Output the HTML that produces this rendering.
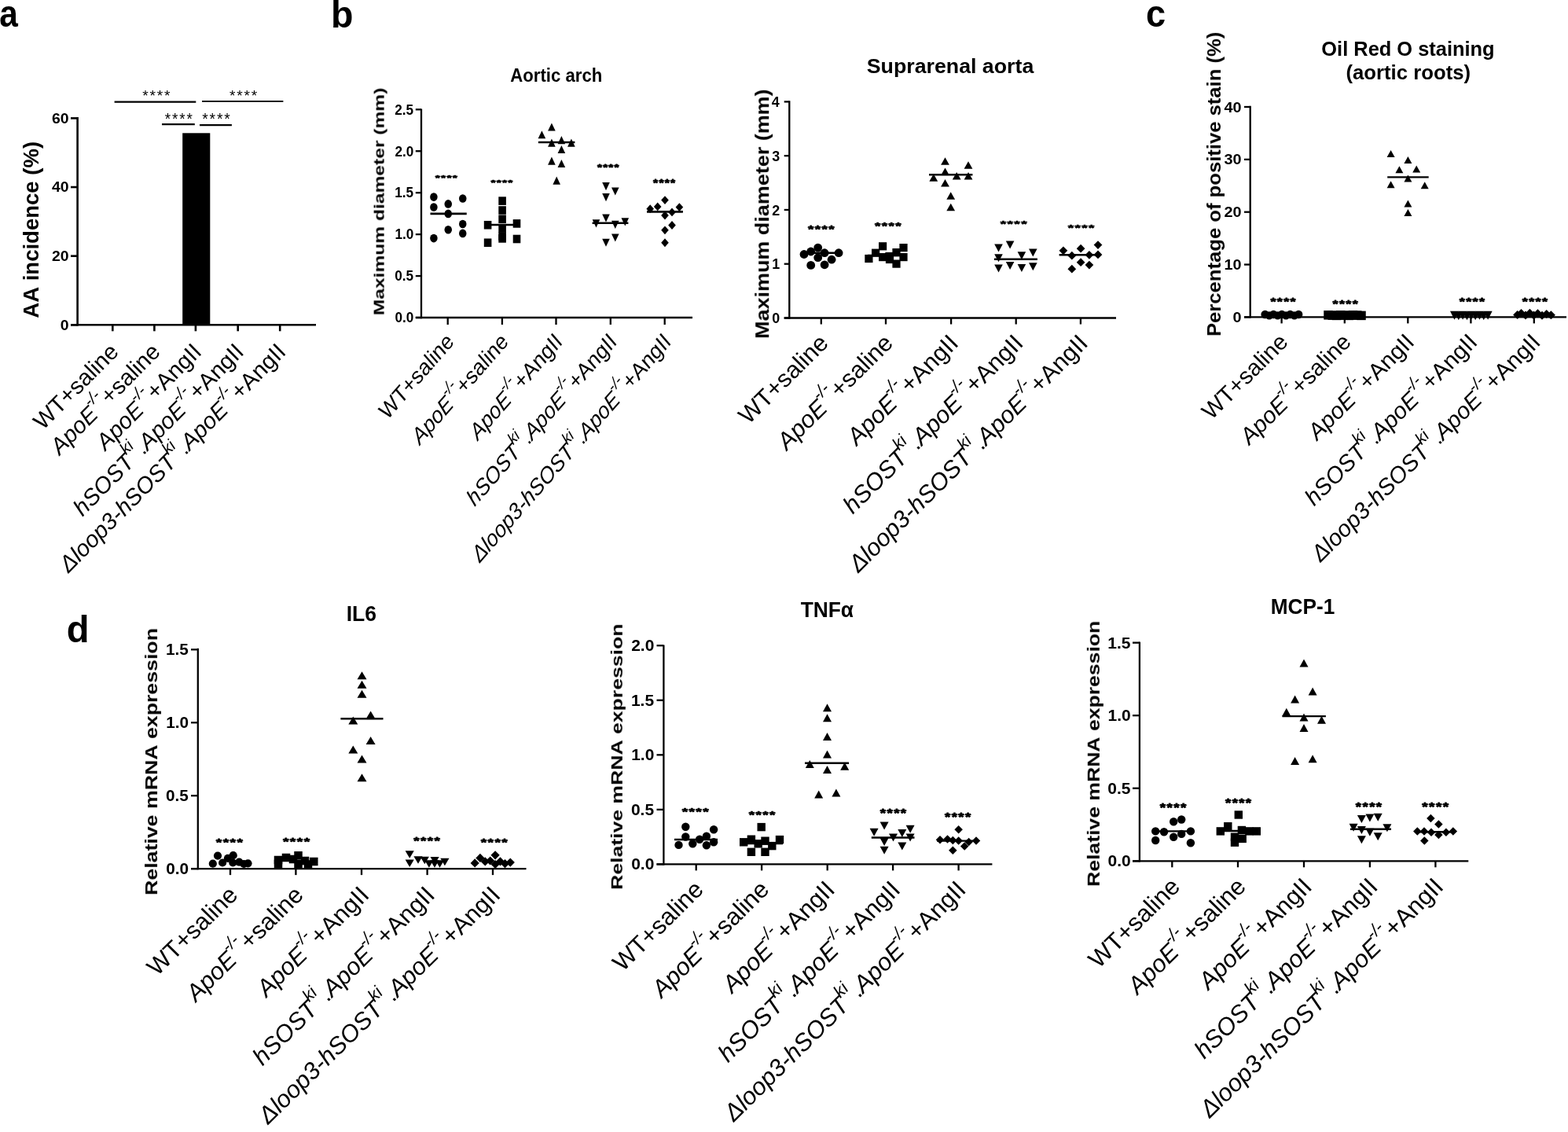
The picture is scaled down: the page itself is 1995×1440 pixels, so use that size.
<!DOCTYPE html>
<html><head><meta charset="utf-8"><title>Figure</title><style>html,body{margin:0;padding:0;background:#fff;}svg{display:block;}</style></head><body>
<svg width="1995" height="1440" viewBox="0 0 1995 1440">
<defs><filter id="soft" x="0" y="0" width="1" height="1" color-interpolation-filters="sRGB"><feGaussianBlur stdDeviation="0.45"/></filter></defs>
<rect width="1995" height="1440" fill="#fff"/>
<g fill="#000" stroke="none" font-family="'Liberation Sans', Arial, sans-serif" style="font-kerning:none" filter="url(#soft)">
<text transform="translate(-0.84,34.33) scale(0.8830,1)" font-size="48"><tspan font-weight="bold">a</tspan></text>
<text transform="translate(421.08,34.78) scale(0.9695,1)" font-size="48"><tspan font-weight="bold">b</tspan></text>
<text transform="translate(1458.04,34.33) scale(0.9396,1)" font-size="48"><tspan font-weight="bold">c</tspan></text>
<text transform="translate(84.72,816.78) scale(0.9819,1)" font-size="48"><tspan font-weight="bold">d</tspan></text>
<rect x="232.2" y="169.3" width="35.1" height="244"/>
<line x1="98.6" y1="149" x2="98.6" y2="414.6" stroke="#000" stroke-width="2.6"/>
<line x1="90" y1="413.3" x2="402" y2="413.3" stroke="#000" stroke-width="2.6"/>
<line x1="90" y1="413.3" x2="98.6" y2="413.3" stroke="#000" stroke-width="2.6"/>
<line x1="90" y1="325.67" x2="98.6" y2="325.67" stroke="#000" stroke-width="2.6"/>
<line x1="90" y1="238.03" x2="98.6" y2="238.03" stroke="#000" stroke-width="2.6"/>
<line x1="90" y1="150.4" x2="98.6" y2="150.4" stroke="#000" stroke-width="2.6"/>
<line x1="143.3" y1="413.3" x2="143.3" y2="421.3" stroke="#000" stroke-width="2.6"/>
<line x1="196.4" y1="413.3" x2="196.4" y2="421.3" stroke="#000" stroke-width="2.6"/>
<line x1="248.9" y1="413.3" x2="248.9" y2="421.3" stroke="#000" stroke-width="2.6"/>
<line x1="302.7" y1="413.3" x2="302.7" y2="421.3" stroke="#000" stroke-width="2.6"/>
<line x1="356.2" y1="413.3" x2="356.2" y2="421.3" stroke="#000" stroke-width="2.6"/>
<text transform="translate(76.79,419.67) scale(1,0.9524)" font-size="19.43" font-weight="bold">0</text>
<text transform="translate(65.99,332.04) scale(1,0.9524)" font-size="19.43" font-weight="bold">20</text>
<text transform="translate(65.99,244.4) scale(1,0.9524)" font-size="19.43" font-weight="bold">40</text>
<text transform="translate(65.99,156.77) scale(1,0.9524)" font-size="19.43" font-weight="bold">60</text>
<text transform="translate(48.93,404.69) rotate(-90) scale(1.0083,1)" font-size="27.3"><tspan font-weight="bold">AA incidence (%)</tspan></text>
<line x1="145.6" y1="129.6" x2="249.3" y2="129.6" stroke="#000" stroke-width="2.4"/>
<line x1="257" y1="128.9" x2="360.4" y2="128.9" stroke="#000" stroke-width="1.8"/>
<line x1="206" y1="158.2" x2="247.8" y2="158.2" stroke="#000" stroke-width="2.2"/>
<line x1="254" y1="159.1" x2="294.9" y2="159.1" stroke="#000" stroke-width="2.2"/>
<text transform="translate(181.19,127.83) scale(1.0242,1)" font-size="18.8">*</text>
<text transform="translate(190.46,127.83) scale(1.0242,1)" font-size="18.8">*</text>
<text transform="translate(199.74,127.83) scale(1.0242,1)" font-size="18.8">*</text>
<text transform="translate(209.01,127.83) scale(1.0242,1)" font-size="18.8">*</text>
<text transform="translate(291.99,127.83) scale(1.0176,1)" font-size="18.8">*</text>
<text transform="translate(301.21,127.83) scale(1.0176,1)" font-size="18.8">*</text>
<text transform="translate(310.43,127.83) scale(1.0176,1)" font-size="18.8">*</text>
<text transform="translate(319.65,127.83) scale(1.0176,1)" font-size="18.8">*</text>
<text transform="translate(209.79,157.91) scale(0.9298,1)" font-size="20.51">*</text>
<text transform="translate(218.99,157.91) scale(0.9298,1)" font-size="20.51">*</text>
<text transform="translate(228.18,157.91) scale(0.9298,1)" font-size="20.51">*</text>
<text transform="translate(237.38,157.91) scale(0.9298,1)" font-size="20.51">*</text>
<text transform="translate(257.19,157.91) scale(0.9479,1)" font-size="20.51">*</text>
<text transform="translate(266.54,157.91) scale(0.9479,1)" font-size="20.51">*</text>
<text transform="translate(275.89,157.91) scale(0.9479,1)" font-size="20.51">*</text>
<text transform="translate(285.24,157.91) scale(0.9479,1)" font-size="20.51">*</text>
<text transform="translate(152.38,449.21) scale(1,1.0080) rotate(-45)" font-size="29.14" text-anchor="end"><tspan >WT+saline</tspan></text>
<text transform="translate(205.48,449.21) scale(1,1.0080) rotate(-45)" font-size="29.14" text-anchor="end"><tspan font-style="italic">ApoE</tspan><tspan font-size="20.98" font-style="italic" dy="-15.59" dx="-1.17">-/-</tspan><tspan dy="15.59">+saline</tspan></text>
<text transform="translate(257.98,449.21) scale(1,1.0080) rotate(-45)" font-size="29.14" text-anchor="end"><tspan font-style="italic">ApoE</tspan><tspan font-size="20.98" font-style="italic" dy="-15.59" dx="-1.17">-/-</tspan><tspan dy="15.59">+AngII</tspan></text>
<text transform="translate(311.78,449.21) scale(1,1.0080) rotate(-45)" font-size="29.14" text-anchor="end"><tspan font-style="italic">hSOST</tspan><tspan font-size="20.98" font-style="italic" dy="-15.59" dx="-1.17">ki</tspan><tspan dy="15.59">.</tspan><tspan font-style="italic">ApoE</tspan><tspan font-size="20.98" font-style="italic" dy="-15.59" dx="-1.17">-/-</tspan><tspan dy="15.59">+AngII</tspan></text>
<text transform="translate(365.28,449.21) scale(1,1.0080) rotate(-45)" font-size="29.14" text-anchor="end"><tspan font-style="italic">Δloop3-hSOST</tspan><tspan font-size="20.98" font-style="italic" dy="-15.59" dx="-1.17">ki</tspan><tspan dy="15.59">.</tspan><tspan font-style="italic">ApoE</tspan><tspan font-size="20.98" font-style="italic" dy="-15.59" dx="-1.17">-/-</tspan><tspan dy="15.59">+AngII</tspan></text>
<line x1="536" y1="138.4" x2="536" y2="405.15" stroke="#000" stroke-width="2.3"/>
<line x1="528.8" y1="404" x2="881" y2="404" stroke="#000" stroke-width="2.3"/>
<line x1="528.8" y1="404" x2="536" y2="404" stroke="#000" stroke-width="2.3"/>
<line x1="528.8" y1="351.06" x2="536" y2="351.06" stroke="#000" stroke-width="2.3"/>
<line x1="528.8" y1="298.12" x2="536" y2="298.12" stroke="#000" stroke-width="2.3"/>
<line x1="528.8" y1="245.18" x2="536" y2="245.18" stroke="#000" stroke-width="2.3"/>
<line x1="528.8" y1="192.24" x2="536" y2="192.24" stroke="#000" stroke-width="2.3"/>
<line x1="528.8" y1="139.3" x2="536" y2="139.3" stroke="#000" stroke-width="2.3"/>
<line x1="569.7" y1="404" x2="569.7" y2="413" stroke="#000" stroke-width="2.3"/>
<line x1="638.9" y1="404" x2="638.9" y2="413" stroke="#000" stroke-width="2.3"/>
<line x1="707.5" y1="404" x2="707.5" y2="413" stroke="#000" stroke-width="2.3"/>
<line x1="776.8" y1="404" x2="776.8" y2="413" stroke="#000" stroke-width="2.3"/>
<line x1="845.7" y1="404" x2="845.7" y2="413" stroke="#000" stroke-width="2.3"/>
<text transform="translate(502.53,410.32) scale(1,1.0692)" font-size="17.17" font-weight="bold">0.0</text>
<text transform="translate(502.3,357.38) scale(1,1.0692)" font-size="17.17" font-weight="bold">0.5</text>
<text transform="translate(502.53,304.44) scale(1,1.0692)" font-size="17.17" font-weight="bold">1.0</text>
<text transform="translate(502.3,251.41) scale(1,1.0692)" font-size="17.17" font-weight="bold">1.5</text>
<text transform="translate(502.53,198.56) scale(1,1.0692)" font-size="17.17" font-weight="bold">2.0</text>
<text transform="translate(502.3,145.62) scale(1,1.0692)" font-size="17.17" font-weight="bold">2.5</text>
<text transform="translate(488.62,401.25) rotate(-90) scale(1.3491,1)" font-size="18.24"><tspan font-weight="bold">Maximum diameter (mm)</tspan></text>
<text transform="translate(649.35,103.97) scale(0.9512,1)" font-size="23.29"><tspan font-weight="bold">Aortic arch</tspan></text>
<ellipse cx="551.9" cy="250.6" rx="4.75" ry="5.3"/>
<ellipse cx="551.9" cy="263.5" rx="4.75" ry="5.3"/>
<ellipse cx="551.9" cy="303.1" rx="4.75" ry="5.3"/>
<ellipse cx="570.25" cy="259.4" rx="4.75" ry="5.3"/>
<ellipse cx="570.25" cy="271.9" rx="4.75" ry="5.3"/>
<ellipse cx="570.25" cy="292.25" rx="4.75" ry="5.3"/>
<ellipse cx="588.75" cy="252.5" rx="4.75" ry="5.3"/>
<ellipse cx="588.75" cy="285" rx="4.75" ry="5.3"/>
<ellipse cx="588.75" cy="296.9" rx="4.75" ry="5.3"/>
<rect x="615.8" y="280.95" width="9.6" height="10.6"/>
<rect x="615.8" y="303.45" width="9.6" height="10.6"/>
<rect x="634.3" y="250.3" width="9.6" height="10.6"/>
<rect x="634.3" y="262.2" width="9.6" height="10.6"/>
<rect x="634.3" y="273.45" width="9.6" height="10.6"/>
<rect x="634.3" y="285.2" width="9.6" height="10.6"/>
<rect x="634.3" y="295.2" width="9.6" height="10.6"/>
<rect x="634.3" y="298.1" width="9.6" height="10.6"/>
<rect x="652.7" y="279.1" width="9.6" height="10.6"/>
<rect x="652.7" y="298.7" width="9.6" height="10.6"/>
<path d="M701.9 156.4L706.7 166.6L697.1 166.6Z"/>
<path d="M689.4 166.15L694.2 176.35L684.6 176.35Z"/>
<path d="M701.9 176.6L706.7 186.8L697.1 186.8Z"/>
<path d="M714.4 173.1L719.2 183.3L709.6 183.3Z"/>
<path d="M726.9 176.6L731.7 186.8L722.1 186.8Z"/>
<path d="M714.4 184.9L719.2 195.1L709.6 195.1Z"/>
<path d="M701.9 199.5L706.7 209.7L697.1 209.7Z"/>
<path d="M714.4 202.9L719.2 213.1L709.6 213.1Z"/>
<path d="M708.2 224.5L713 234.7L703.4 234.7Z"/>
<path d="M766.2 232.1L775.8 232.1L771 242.3Z"/>
<path d="M778 238.4L787.6 238.4L782.8 248.6Z"/>
<path d="M766.2 246L775.8 246L771 256.2Z"/>
<path d="M766.2 272.4L775.8 272.4L771 282.6Z"/>
<path d="M753.7 279.3L763.3 279.3L758.5 289.5Z"/>
<path d="M778 280.7L787.6 280.7L782.8 290.9Z"/>
<path d="M790.5 277.3L800.1 277.3L795.3 287.5Z"/>
<path d="M778 297.4L787.6 297.4L782.8 307.6Z"/>
<path d="M766.2 303.65L775.8 303.65L771 313.85Z"/>
<path d="M846 249.2L850.8 254.6L846 260L841.2 254.6Z"/>
<path d="M836.7 257.5L841.5 262.9L836.7 268.3L831.9 262.9Z"/>
<path d="M827.2 260.3L832 265.7L827.2 271.1L822.4 265.7Z"/>
<path d="M864.4 258.2L869.2 263.6L864.4 269L859.6 263.6Z"/>
<path d="M855 264.5L859.8 269.9L855 275.3L850.2 269.9Z"/>
<path d="M846 268.6L850.8 274L846 279.4L841.2 274Z"/>
<path d="M855 281.1L859.8 286.5L855 291.9L850.2 286.5Z"/>
<path d="M846 287.4L850.8 292.8L846 298.2L841.2 292.8Z"/>
<path d="M846 303.35L850.8 308.75L846 314.15L841.2 308.75Z"/>
<line x1="547.5" y1="271.9" x2="593.75" y2="271.9" stroke="#000" stroke-width="2.6"/>
<line x1="616.9" y1="286" x2="661.9" y2="286" stroke="#000" stroke-width="2.6"/>
<line x1="684.9" y1="181" x2="731.4" y2="181" stroke="#000" stroke-width="2.6"/>
<line x1="753.6" y1="283.75" x2="799.4" y2="283.75" stroke="#000" stroke-width="2.6"/>
<line x1="823" y1="269.4" x2="868.9" y2="269.4" stroke="#000" stroke-width="2.6"/>
<text transform="translate(553.8,228.74) scale(1.5700,1)" font-size="9.94" font-weight="bold" stroke="#000" stroke-width="0.7" stroke-linejoin="round">*</text>
<text transform="translate(561.12,228.74) scale(1.5700,1)" font-size="9.94" font-weight="bold" stroke="#000" stroke-width="0.7" stroke-linejoin="round">*</text>
<text transform="translate(568.43,228.74) scale(1.5700,1)" font-size="9.94" font-weight="bold" stroke="#000" stroke-width="0.7" stroke-linejoin="round">*</text>
<text transform="translate(575.74,228.74) scale(1.5700,1)" font-size="9.94" font-weight="bold" stroke="#000" stroke-width="0.7" stroke-linejoin="round">*</text>
<text transform="translate(624.45,235.49) scale(1.5671,1)" font-size="9.94" font-weight="bold" stroke="#000" stroke-width="0.7" stroke-linejoin="round">*</text>
<text transform="translate(631.75,235.49) scale(1.5671,1)" font-size="9.94" font-weight="bold" stroke="#000" stroke-width="0.7" stroke-linejoin="round">*</text>
<text transform="translate(639.05,235.49) scale(1.5671,1)" font-size="9.94" font-weight="bold" stroke="#000" stroke-width="0.7" stroke-linejoin="round">*</text>
<text transform="translate(646.35,235.49) scale(1.5671,1)" font-size="9.94" font-weight="bold" stroke="#000" stroke-width="0.7" stroke-linejoin="round">*</text>
<text transform="translate(759.96,216.6) scale(1.3286,1)" font-size="11.56" font-weight="bold" stroke="#000" stroke-width="0.83" stroke-linejoin="round">*</text>
<text transform="translate(767.15,216.6) scale(1.3286,1)" font-size="11.56" font-weight="bold" stroke="#000" stroke-width="0.83" stroke-linejoin="round">*</text>
<text transform="translate(774.34,216.6) scale(1.3286,1)" font-size="11.56" font-weight="bold" stroke="#000" stroke-width="0.83" stroke-linejoin="round">*</text>
<text transform="translate(781.54,216.6) scale(1.3286,1)" font-size="11.56" font-weight="bold" stroke="#000" stroke-width="0.83" stroke-linejoin="round">*</text>
<text transform="translate(831.05,236.88) scale(1.3078,1)" font-size="11.96" font-weight="bold" stroke="#000" stroke-width="0.84" stroke-linejoin="round">*</text>
<text transform="translate(838.38,236.88) scale(1.3078,1)" font-size="11.96" font-weight="bold" stroke="#000" stroke-width="0.84" stroke-linejoin="round">*</text>
<text transform="translate(845.7,236.88) scale(1.3078,1)" font-size="11.96" font-weight="bold" stroke="#000" stroke-width="0.84" stroke-linejoin="round">*</text>
<text transform="translate(853.03,236.88) scale(1.3078,1)" font-size="11.96" font-weight="bold" stroke="#000" stroke-width="0.84" stroke-linejoin="round">*</text>
<text transform="translate(578.96,436.12) scale(1,1.1470) rotate(-45)" font-size="25.64" text-anchor="end"><tspan >WT+saline</tspan></text>
<text transform="translate(648.16,436.12) scale(1,1.1470) rotate(-45)" font-size="25.64" text-anchor="end"><tspan font-style="italic">ApoE</tspan><tspan font-size="18.46" font-style="italic" dy="-13.72" dx="-1.03">-/-</tspan><tspan dy="13.72">+saline</tspan></text>
<text transform="translate(716.76,436.12) scale(1,1.1470) rotate(-45)" font-size="25.64" text-anchor="end"><tspan font-style="italic">ApoE</tspan><tspan font-size="18.46" font-style="italic" dy="-13.72" dx="-1.03">-/-</tspan><tspan dy="13.72">+AngII</tspan></text>
<text transform="translate(786.06,436.12) scale(1,1.1470) rotate(-45)" font-size="25.64" text-anchor="end"><tspan font-style="italic">hSOST</tspan><tspan font-size="18.46" font-style="italic" dy="-13.72" dx="-1.03">ki</tspan><tspan dy="13.72">.</tspan><tspan font-style="italic">ApoE</tspan><tspan font-size="18.46" font-style="italic" dy="-13.72" dx="-1.03">-/-</tspan><tspan dy="13.72">+AngII</tspan></text>
<text transform="translate(854.96,436.12) scale(1,1.1470) rotate(-45)" font-size="25.64" text-anchor="end"><tspan font-style="italic">Δloop3-hSOST</tspan><tspan font-size="18.46" font-style="italic" dy="-13.72" dx="-1.03">ki</tspan><tspan dy="13.72">.</tspan><tspan font-style="italic">ApoE</tspan><tspan font-size="18.46" font-style="italic" dy="-13.72" dx="-1.03">-/-</tspan><tspan dy="13.72">+AngII</tspan></text>
<line x1="1004.3" y1="128.2" x2="1004.3" y2="405.65" stroke="#000" stroke-width="2.3"/>
<line x1="997.7" y1="404.5" x2="1420" y2="404.5" stroke="#000" stroke-width="2.3"/>
<line x1="997.7" y1="404.5" x2="1004.3" y2="404.5" stroke="#000" stroke-width="2.3"/>
<line x1="997.7" y1="335.73" x2="1004.3" y2="335.73" stroke="#000" stroke-width="2.3"/>
<line x1="997.7" y1="266.95" x2="1004.3" y2="266.95" stroke="#000" stroke-width="2.3"/>
<line x1="997.7" y1="198.17" x2="1004.3" y2="198.17" stroke="#000" stroke-width="2.3"/>
<line x1="997.7" y1="129.4" x2="1004.3" y2="129.4" stroke="#000" stroke-width="2.3"/>
<line x1="1044.8" y1="404.5" x2="1044.8" y2="412.5" stroke="#000" stroke-width="2.3"/>
<line x1="1127" y1="404.5" x2="1127" y2="412.5" stroke="#000" stroke-width="2.3"/>
<line x1="1210.1" y1="404.5" x2="1210.1" y2="412.5" stroke="#000" stroke-width="2.3"/>
<line x1="1292.7" y1="404.5" x2="1292.7" y2="412.5" stroke="#000" stroke-width="2.3"/>
<line x1="1374.9" y1="404.5" x2="1374.9" y2="412.5" stroke="#000" stroke-width="2.3"/>
<text transform="translate(982.37,411.1) scale(1,1.0705)" font-size="17.92" font-weight="bold">0</text>
<text transform="translate(982.13,342.33) scale(1,1.0705)" font-size="17.92" font-weight="bold">1</text>
<text transform="translate(982.35,273.65) scale(1,1.0705)" font-size="17.92" font-weight="bold">2</text>
<text transform="translate(982.28,204.77) scale(1,1.0705)" font-size="17.92" font-weight="bold">3</text>
<text transform="translate(981.73,136) scale(1,1.0705)" font-size="17.92" font-weight="bold">4</text>
<text transform="translate(978.22,430.9) rotate(-90) scale(1.1023,1)" font-size="24.46"><tspan font-weight="bold">Maximum diameter (mm)</tspan></text>
<text transform="translate(1102.73,92.66) scale(1.0385,1)" font-size="25.75"><tspan font-weight="bold">Suprarenal aorta</tspan></text>
<ellipse cx="1023" cy="323.5" rx="5.4" ry="5.4"/>
<ellipse cx="1031.7" cy="320" rx="5.4" ry="5.4"/>
<ellipse cx="1040.7" cy="315.1" rx="5.4" ry="5.4"/>
<ellipse cx="1040.7" cy="327.7" rx="5.4" ry="5.4"/>
<ellipse cx="1049.1" cy="321.7" rx="5.4" ry="5.4"/>
<ellipse cx="1058.1" cy="330.2" rx="5.4" ry="5.4"/>
<ellipse cx="1067.1" cy="321.7" rx="5.4" ry="5.4"/>
<ellipse cx="1031.7" cy="337.4" rx="5.4" ry="5.4"/>
<ellipse cx="1049.1" cy="336.8" rx="5.4" ry="5.4"/>
<rect x="1100.3" y="323.9" width="10.2" height="10.2"/>
<rect x="1109" y="316.6" width="10.2" height="10.2"/>
<rect x="1118" y="308.2" width="10.2" height="10.2"/>
<rect x="1118" y="322" width="10.2" height="10.2"/>
<rect x="1126.4" y="320.9" width="10.2" height="10.2"/>
<rect x="1135.4" y="316" width="10.2" height="10.2"/>
<rect x="1135.4" y="330.5" width="10.2" height="10.2"/>
<rect x="1126.9" y="324.9" width="10.2" height="10.2"/>
<rect x="1144.4" y="310" width="10.2" height="10.2"/>
<rect x="1144.4" y="322" width="10.2" height="10.2"/>
<path d="M1202.5 200.25L1207.9 209.75L1197.1 209.75Z"/>
<path d="M1232 205.15L1237.4 214.65L1226.6 214.65Z"/>
<path d="M1202.5 213.55L1207.9 223.05L1197.1 223.05Z"/>
<path d="M1187.8 221.35L1193.2 230.85L1182.4 230.85Z"/>
<path d="M1217.2 218.95L1222.6 228.45L1211.8 228.45Z"/>
<path d="M1232 218.95L1237.4 228.45L1226.6 228.45Z"/>
<path d="M1202.5 227.95L1207.9 237.45L1197.1 237.45Z"/>
<path d="M1209.7 244.25L1215.1 253.75L1204.3 253.75Z"/>
<path d="M1209.7 258.65L1215.1 268.15L1204.3 268.15Z"/>
<path d="M1265.2 310.4L1275.8 310.4L1270.5 320.4Z"/>
<path d="M1279.8 306.6L1290.4 306.6L1285.1 316.6Z"/>
<path d="M1265.2 323.2L1275.8 323.2L1270.5 333.2Z"/>
<path d="M1294.6 320.2L1305.2 320.2L1299.9 330.2Z"/>
<path d="M1309 316.4L1319.6 316.4L1314.3 326.4Z"/>
<path d="M1265.2 336.4L1275.8 336.4L1270.5 346.4Z"/>
<path d="M1279.8 333L1290.4 333L1285.1 343Z"/>
<path d="M1294.6 336L1305.2 336L1299.9 346Z"/>
<path d="M1309 334.2L1319.6 334.2L1314.3 344.2Z"/>
<path d="M1352.9 313.45L1358.25 318.8L1352.9 324.15L1347.55 318.8Z"/>
<path d="M1363.8 319.85L1369.15 325.2L1363.8 330.55L1358.45 325.2Z"/>
<path d="M1375.1 310.85L1380.45 316.2L1375.1 321.55L1369.75 316.2Z"/>
<path d="M1385.9 318.95L1391.25 324.3L1385.9 329.65L1380.55 324.3Z"/>
<path d="M1397 306.25L1402.35 311.6L1397 316.95L1391.65 311.6Z"/>
<path d="M1397 318.55L1402.35 323.9L1397 329.25L1391.65 323.9Z"/>
<path d="M1375.1 328.35L1380.45 333.7L1375.1 339.05L1369.75 333.7Z"/>
<path d="M1385.9 331.75L1391.25 337.1L1385.9 342.45L1380.55 337.1Z"/>
<path d="M1363.8 336.85L1369.15 342.2L1363.8 347.55L1358.45 342.2Z"/>
<line x1="1024" y1="321.7" x2="1066" y2="321.7" stroke="#000" stroke-width="2.4"/>
<line x1="1104" y1="325" x2="1151" y2="325" stroke="#000" stroke-width="2.4"/>
<line x1="1182" y1="222.2" x2="1237.4" y2="222.2" stroke="#000" stroke-width="2.4"/>
<line x1="1264.9" y1="329.7" x2="1319.9" y2="329.7" stroke="#000" stroke-width="2.4"/>
<line x1="1347.6" y1="324.3" x2="1394.9" y2="324.3" stroke="#000" stroke-width="2.4"/>
<text transform="translate(1028.04,296.33) scale(1.4568,1)" font-size="12.9" font-weight="bold" stroke="#000" stroke-width="0.76" stroke-linejoin="round">*</text>
<text transform="translate(1036.8,296.33) scale(1.4568,1)" font-size="12.9" font-weight="bold" stroke="#000" stroke-width="0.76" stroke-linejoin="round">*</text>
<text transform="translate(1045.55,296.33) scale(1.4568,1)" font-size="12.9" font-weight="bold" stroke="#000" stroke-width="0.76" stroke-linejoin="round">*</text>
<text transform="translate(1054.3,296.33) scale(1.4568,1)" font-size="12.9" font-weight="bold" stroke="#000" stroke-width="0.76" stroke-linejoin="round">*</text>
<text transform="translate(1112.95,291.94) scale(1.4832,1)" font-size="12.63" font-weight="bold" stroke="#000" stroke-width="0.74" stroke-linejoin="round">*</text>
<text transform="translate(1121.67,291.94) scale(1.4832,1)" font-size="12.63" font-weight="bold" stroke="#000" stroke-width="0.74" stroke-linejoin="round">*</text>
<text transform="translate(1130.4,291.94) scale(1.4832,1)" font-size="12.63" font-weight="bold" stroke="#000" stroke-width="0.74" stroke-linejoin="round">*</text>
<text transform="translate(1139.13,291.94) scale(1.4832,1)" font-size="12.63" font-weight="bold" stroke="#000" stroke-width="0.74" stroke-linejoin="round">*</text>
<text transform="translate(1272.64,288.92) scale(1.6852,1)" font-size="11.29" font-weight="bold" stroke="#000" stroke-width="0.65" stroke-linejoin="round">*</text>
<text transform="translate(1281.5,288.92) scale(1.6852,1)" font-size="11.29" font-weight="bold" stroke="#000" stroke-width="0.65" stroke-linejoin="round">*</text>
<text transform="translate(1290.36,288.92) scale(1.6852,1)" font-size="11.29" font-weight="bold" stroke="#000" stroke-width="0.65" stroke-linejoin="round">*</text>
<text transform="translate(1299.22,288.92) scale(1.6852,1)" font-size="11.29" font-weight="bold" stroke="#000" stroke-width="0.65" stroke-linejoin="round">*</text>
<text transform="translate(1358.64,294.42) scale(1.6649,1)" font-size="11.29" font-weight="bold" stroke="#000" stroke-width="0.66" stroke-linejoin="round">*</text>
<text transform="translate(1367.4,294.42) scale(1.6649,1)" font-size="11.29" font-weight="bold" stroke="#000" stroke-width="0.66" stroke-linejoin="round">*</text>
<text transform="translate(1376.15,294.42) scale(1.6649,1)" font-size="11.29" font-weight="bold" stroke="#000" stroke-width="0.66" stroke-linejoin="round">*</text>
<text transform="translate(1384.9,294.42) scale(1.6649,1)" font-size="11.29" font-weight="bold" stroke="#000" stroke-width="0.66" stroke-linejoin="round">*</text>
<text transform="translate(1055.65,438.3) scale(1,0.9910) rotate(-45)" font-size="30.77" text-anchor="end"><tspan >WT+saline</tspan></text>
<text transform="translate(1137.85,438.3) scale(1,0.9910) rotate(-45)" font-size="30.77" text-anchor="end"><tspan font-style="italic">ApoE</tspan><tspan font-size="22.15" font-style="italic" dy="-16.46" dx="-1.23">-/-</tspan><tspan dy="16.46">+saline</tspan></text>
<text transform="translate(1220.95,438.3) scale(1,0.9910) rotate(-45)" font-size="30.77" text-anchor="end"><tspan font-style="italic">ApoE</tspan><tspan font-size="22.15" font-style="italic" dy="-16.46" dx="-1.23">-/-</tspan><tspan dy="16.46">+AngII</tspan></text>
<text transform="translate(1303.55,438.3) scale(1,0.9910) rotate(-45)" font-size="30.77" text-anchor="end"><tspan font-style="italic">hSOST</tspan><tspan font-size="22.15" font-style="italic" dy="-16.46" dx="-1.23">ki</tspan><tspan dy="16.46">.</tspan><tspan font-style="italic">ApoE</tspan><tspan font-size="22.15" font-style="italic" dy="-16.46" dx="-1.23">-/-</tspan><tspan dy="16.46">+AngII</tspan></text>
<text transform="translate(1385.75,438.3) scale(1,0.9910) rotate(-45)" font-size="30.77" text-anchor="end"><tspan font-style="italic">Δloop3-hSOST</tspan><tspan font-size="22.15" font-style="italic" dy="-16.46" dx="-1.23">ki</tspan><tspan dy="16.46">.</tspan><tspan font-style="italic">ApoE</tspan><tspan font-size="22.15" font-style="italic" dy="-16.46" dx="-1.23">-/-</tspan><tspan dy="16.46">+AngII</tspan></text>
<line x1="1590.7" y1="134.7" x2="1590.7" y2="404.55" stroke="#000" stroke-width="2.3"/>
<line x1="1583" y1="403.4" x2="1993" y2="403.4" stroke="#000" stroke-width="2.3"/>
<line x1="1583" y1="403.4" x2="1590.7" y2="403.4" stroke="#000" stroke-width="2.3"/>
<line x1="1583" y1="336.55" x2="1590.7" y2="336.55" stroke="#000" stroke-width="2.3"/>
<line x1="1583" y1="269.7" x2="1590.7" y2="269.7" stroke="#000" stroke-width="2.3"/>
<line x1="1583" y1="202.85" x2="1590.7" y2="202.85" stroke="#000" stroke-width="2.3"/>
<line x1="1583" y1="136" x2="1590.7" y2="136" stroke="#000" stroke-width="2.3"/>
<line x1="1630.6" y1="403.4" x2="1630.6" y2="411.4" stroke="#000" stroke-width="2.3"/>
<line x1="1710.8" y1="403.4" x2="1710.8" y2="411.4" stroke="#000" stroke-width="2.3"/>
<line x1="1791.3" y1="403.4" x2="1791.3" y2="411.4" stroke="#000" stroke-width="2.3"/>
<line x1="1871.4" y1="403.4" x2="1871.4" y2="411.4" stroke="#000" stroke-width="2.3"/>
<line x1="1951.8" y1="403.4" x2="1951.8" y2="411.4" stroke="#000" stroke-width="2.3"/>
<text transform="translate(1568.46,409.96) scale(1,0.9590)" font-size="19.88" font-weight="bold">0</text>
<text transform="translate(1557.4,343.11) scale(1,0.9590)" font-size="19.88" font-weight="bold">10</text>
<text transform="translate(1557.4,276.26) scale(1,0.9590)" font-size="19.88" font-weight="bold">20</text>
<text transform="translate(1557.4,209.4) scale(1,0.9590)" font-size="19.88" font-weight="bold">30</text>
<text transform="translate(1557.4,142.56) scale(1,0.9590)" font-size="19.88" font-weight="bold">40</text>
<text transform="translate(1553.02,427.91) rotate(-90) scale(1.0910,1)" font-size="23.49"><tspan font-weight="bold">Percentage of positive stain (%)</tspan></text>
<text transform="translate(1681.36,71.23) scale(1.0218,1)" font-size="24.88"><tspan font-weight="bold">Oil Red O staining</tspan></text>
<text transform="translate(1712.42,101.28) scale(1.0041,1)" font-size="25.64"><tspan font-weight="bold">(aortic roots)</tspan></text>
<ellipse cx="1609.6" cy="400" rx="5.2" ry="5.2"/>
<ellipse cx="1614.92" cy="401.4" rx="5.2" ry="5.2"/>
<ellipse cx="1620.25" cy="400" rx="5.2" ry="5.2"/>
<ellipse cx="1625.58" cy="401.4" rx="5.2" ry="5.2"/>
<ellipse cx="1630.9" cy="400" rx="5.2" ry="5.2"/>
<ellipse cx="1636.22" cy="401.4" rx="5.2" ry="5.2"/>
<ellipse cx="1641.55" cy="400" rx="5.2" ry="5.2"/>
<ellipse cx="1646.88" cy="401.4" rx="5.2" ry="5.2"/>
<ellipse cx="1652.2" cy="400" rx="5.2" ry="5.2"/>
<rect x="1684.25" y="395.05" width="11.5" height="11.5"/>
<rect x="1689.5" y="395.35" width="11.5" height="11.5"/>
<rect x="1694.75" y="395.65" width="11.5" height="11.5"/>
<rect x="1700" y="395.05" width="11.5" height="11.5"/>
<rect x="1705.25" y="395.35" width="11.5" height="11.5"/>
<rect x="1710.5" y="395.65" width="11.5" height="11.5"/>
<rect x="1715.75" y="395.05" width="11.5" height="11.5"/>
<rect x="1721" y="395.35" width="11.5" height="11.5"/>
<rect x="1726.25" y="395.65" width="11.5" height="11.5"/>
<path d="M1769.6 190.9L1774.6 199.9L1764.6 199.9Z"/>
<path d="M1791.4 199.1L1796.4 208.1L1786.4 208.1Z"/>
<path d="M1780.4 211.3L1785.4 220.3L1775.4 220.3Z"/>
<path d="M1802.2 210.5L1807.2 219.5L1797.2 219.5Z"/>
<path d="M1791.4 222.4L1796.4 231.4L1786.4 231.4Z"/>
<path d="M1769.6 230.3L1774.6 239.3L1764.6 239.3Z"/>
<path d="M1812.7 231.2L1817.7 240.2L1807.7 240.2Z"/>
<path d="M1791.4 254.5L1796.4 263.5L1786.4 263.5Z"/>
<path d="M1791.4 266.1L1796.4 275.1L1786.4 275.1Z"/>
<path d="M1845 395.7L1856 395.7L1850.5 406.7Z"/>
<path d="M1850.33 396.3L1861.33 396.3L1855.83 407.3Z"/>
<path d="M1855.65 395.7L1866.65 395.7L1861.15 406.7Z"/>
<path d="M1860.97 396.3L1871.97 396.3L1866.47 407.3Z"/>
<path d="M1866.3 395.7L1877.3 395.7L1871.8 406.7Z"/>
<path d="M1871.62 396.3L1882.62 396.3L1877.12 407.3Z"/>
<path d="M1876.95 395.7L1887.95 395.7L1882.45 406.7Z"/>
<path d="M1882.27 396.3L1893.27 396.3L1887.77 407.3Z"/>
<path d="M1887.6 395.7L1898.6 395.7L1893.1 406.7Z"/>
<path d="M1930.6 395.1L1936.1 400.6L1930.6 406.1L1925.1 400.6Z"/>
<path d="M1935.5 393L1941 398.5L1935.5 404L1930 398.5Z"/>
<path d="M1941 395.5L1946.5 401L1941 406.5L1935.5 401Z"/>
<path d="M1946.4 392.8L1951.9 398.3L1946.4 403.8L1940.9 398.3Z"/>
<path d="M1951.5 395.5L1957 401L1951.5 406.5L1946 401Z"/>
<path d="M1956.5 393.2L1962 398.7L1956.5 404.2L1951 398.7Z"/>
<path d="M1962 395.7L1967.5 401.2L1962 406.7L1956.5 401.2Z"/>
<path d="M1967.7 394L1973.2 399.5L1967.7 405L1962.2 399.5Z"/>
<path d="M1973.4 395.3L1978.9 400.8L1973.4 406.3L1967.9 400.8Z"/>
<line x1="1765.2" y1="225.4" x2="1817.7" y2="225.4" stroke="#000" stroke-width="2.4"/>
<text transform="translate(1616.45,388.01) scale(1.3618,1)" font-size="13.17" font-weight="bold" stroke="#000" stroke-width="0.81" stroke-linejoin="round">*</text>
<text transform="translate(1624.81,388.01) scale(1.3618,1)" font-size="13.17" font-weight="bold" stroke="#000" stroke-width="0.81" stroke-linejoin="round">*</text>
<text transform="translate(1633.17,388.01) scale(1.3618,1)" font-size="13.17" font-weight="bold" stroke="#000" stroke-width="0.81" stroke-linejoin="round">*</text>
<text transform="translate(1641.54,388.01) scale(1.3618,1)" font-size="13.17" font-weight="bold" stroke="#000" stroke-width="0.81" stroke-linejoin="round">*</text>
<text transform="translate(1695.55,390.51) scale(1.3618,1)" font-size="13.17" font-weight="bold" stroke="#000" stroke-width="0.81" stroke-linejoin="round">*</text>
<text transform="translate(1703.91,390.51) scale(1.3618,1)" font-size="13.17" font-weight="bold" stroke="#000" stroke-width="0.81" stroke-linejoin="round">*</text>
<text transform="translate(1712.27,390.51) scale(1.3618,1)" font-size="13.17" font-weight="bold" stroke="#000" stroke-width="0.81" stroke-linejoin="round">*</text>
<text transform="translate(1720.64,390.51) scale(1.3618,1)" font-size="13.17" font-weight="bold" stroke="#000" stroke-width="0.81" stroke-linejoin="round">*</text>
<text transform="translate(1856.75,388.01) scale(1.3661,1)" font-size="13.17" font-weight="bold" stroke="#000" stroke-width="0.81" stroke-linejoin="round">*</text>
<text transform="translate(1865.14,388.01) scale(1.3661,1)" font-size="13.17" font-weight="bold" stroke="#000" stroke-width="0.81" stroke-linejoin="round">*</text>
<text transform="translate(1873.53,388.01) scale(1.3661,1)" font-size="13.17" font-weight="bold" stroke="#000" stroke-width="0.81" stroke-linejoin="round">*</text>
<text transform="translate(1881.92,388.01) scale(1.3661,1)" font-size="13.17" font-weight="bold" stroke="#000" stroke-width="0.81" stroke-linejoin="round">*</text>
<text transform="translate(1936.85,388.01) scale(1.3618,1)" font-size="13.17" font-weight="bold" stroke="#000" stroke-width="0.81" stroke-linejoin="round">*</text>
<text transform="translate(1945.21,388.01) scale(1.3618,1)" font-size="13.17" font-weight="bold" stroke="#000" stroke-width="0.81" stroke-linejoin="round">*</text>
<text transform="translate(1953.57,388.01) scale(1.3618,1)" font-size="13.17" font-weight="bold" stroke="#000" stroke-width="0.81" stroke-linejoin="round">*</text>
<text transform="translate(1961.94,388.01) scale(1.3618,1)" font-size="13.17" font-weight="bold" stroke="#000" stroke-width="0.81" stroke-linejoin="round">*</text>
<text transform="translate(1640.41,436.78) scale(1,0.9920) rotate(-45)" font-size="29.48" text-anchor="end"><tspan >WT+saline</tspan></text>
<text transform="translate(1720.61,436.78) scale(1,0.9920) rotate(-45)" font-size="29.48" text-anchor="end"><tspan font-style="italic">ApoE</tspan><tspan font-size="21.23" font-style="italic" dy="-15.77" dx="-1.18">-/-</tspan><tspan dy="15.77">+saline</tspan></text>
<text transform="translate(1801.11,436.78) scale(1,0.9920) rotate(-45)" font-size="29.48" text-anchor="end"><tspan font-style="italic">ApoE</tspan><tspan font-size="21.23" font-style="italic" dy="-15.77" dx="-1.18">-/-</tspan><tspan dy="15.77">+AngII</tspan></text>
<text transform="translate(1881.21,436.78) scale(1,0.9920) rotate(-45)" font-size="29.48" text-anchor="end"><tspan font-style="italic">hSOST</tspan><tspan font-size="21.23" font-style="italic" dy="-15.77" dx="-1.18">ki</tspan><tspan dy="15.77">.</tspan><tspan font-style="italic">ApoE</tspan><tspan font-size="21.23" font-style="italic" dy="-15.77" dx="-1.18">-/-</tspan><tspan dy="15.77">+AngII</tspan></text>
<text transform="translate(1961.61,436.78) scale(1,0.9920) rotate(-45)" font-size="29.48" text-anchor="end"><tspan font-style="italic">Δloop3-hSOST</tspan><tspan font-size="21.23" font-style="italic" dy="-15.77" dx="-1.18">ki</tspan><tspan dy="15.77">.</tspan><tspan font-style="italic">ApoE</tspan><tspan font-size="21.23" font-style="italic" dy="-15.77" dx="-1.18">-/-</tspan><tspan dy="15.77">+AngII</tspan></text>
<line x1="251.8" y1="824.7" x2="251.8" y2="1106.25" stroke="#000" stroke-width="2.3"/>
<line x1="243" y1="1105.1" x2="669.5" y2="1105.1" stroke="#000" stroke-width="2.3"/>
<line x1="243" y1="1105.1" x2="251.8" y2="1105.1" stroke="#000" stroke-width="2.3"/>
<line x1="243" y1="1012.17" x2="251.8" y2="1012.17" stroke="#000" stroke-width="2.3"/>
<line x1="243" y1="919.23" x2="251.8" y2="919.23" stroke="#000" stroke-width="2.3"/>
<line x1="243" y1="826.3" x2="251.8" y2="826.3" stroke="#000" stroke-width="2.3"/>
<line x1="293" y1="1105.1" x2="293" y2="1113.1" stroke="#000" stroke-width="2.3"/>
<line x1="376.4" y1="1105.1" x2="376.4" y2="1113.1" stroke="#000" stroke-width="2.3"/>
<line x1="460" y1="1105.1" x2="460" y2="1113.1" stroke="#000" stroke-width="2.3"/>
<line x1="543.6" y1="1105.1" x2="543.6" y2="1113.1" stroke="#000" stroke-width="2.3"/>
<line x1="627" y1="1105.1" x2="627" y2="1113.1" stroke="#000" stroke-width="2.3"/>
<text transform="translate(211.27,1112.2) scale(1,0.9931)" font-size="20.78" font-weight="bold">0.0</text>
<text transform="translate(210.99,1019.27) scale(1,0.9931)" font-size="20.78" font-weight="bold">0.5</text>
<text transform="translate(211.27,926.34) scale(1,0.9931)" font-size="20.78" font-weight="bold">1.0</text>
<text transform="translate(210.99,833.3) scale(1,0.9931)" font-size="20.78" font-weight="bold">1.5</text>
<text transform="translate(200.05,1138.89) rotate(-90) scale(1.2182,1)" font-size="21.94"><tspan font-weight="bold">Relative mRNA expression</tspan></text>
<text transform="translate(440.63,790.24) scale(0.9835,1)" font-size="26.98"><tspan font-weight="bold">IL6</tspan></text>
<ellipse cx="277" cy="1088.6" rx="5.1" ry="5.1"/>
<ellipse cx="270.8" cy="1098.7" rx="5.1" ry="5.1"/>
<ellipse cx="289.9" cy="1091.8" rx="5.1" ry="5.1"/>
<ellipse cx="296.7" cy="1088.2" rx="5.1" ry="5.1"/>
<ellipse cx="283.1" cy="1097.5" rx="5.1" ry="5.1"/>
<ellipse cx="296.3" cy="1097.5" rx="5.1" ry="5.1"/>
<ellipse cx="304.3" cy="1096.7" rx="5.1" ry="5.1"/>
<ellipse cx="315.5" cy="1098.3" rx="5.1" ry="5.1"/>
<ellipse cx="310.3" cy="1099" rx="5.1" ry="5.1"/>
<rect x="348.75" y="1088.75" width="10.5" height="10.5"/>
<rect x="348.75" y="1093.75" width="10.5" height="10.5"/>
<rect x="358.75" y="1085.75" width="10.5" height="10.5"/>
<rect x="367.75" y="1087.75" width="10.5" height="10.5"/>
<rect x="374.25" y="1083.05" width="10.5" height="10.5"/>
<rect x="374.25" y="1093.75" width="10.5" height="10.5"/>
<rect x="382.75" y="1089.75" width="10.5" height="10.5"/>
<rect x="394.05" y="1090.75" width="10.5" height="10.5"/>
<rect x="386.75" y="1094.25" width="10.5" height="10.5"/>
<path d="M460.5 854.2L466.5 864.2L454.5 864.2Z"/>
<path d="M460.5 865.7L466.5 875.7L454.5 875.7Z"/>
<path d="M460.5 877.7L466.5 887.7L454.5 887.7Z"/>
<path d="M449.3 911.4L455.3 921.4L443.3 921.4Z"/>
<path d="M471.6 904.5L477.6 914.5L465.6 914.5Z"/>
<path d="M471.6 937L477.6 947L465.6 947Z"/>
<path d="M449.3 948.4L455.3 958.4L443.3 958.4Z"/>
<path d="M460.5 960.4L466.5 970.4L454.5 970.4Z"/>
<path d="M460.5 984.2L466.5 994.2L454.5 994.2Z"/>
<path d="M515.6 1082.25L526.8 1082.25L521.2 1091.75Z"/>
<path d="M515.6 1093.45L526.8 1093.45L521.2 1102.95Z"/>
<path d="M526.4 1089.25L537.6 1089.25L532 1098.75Z"/>
<path d="M534.7 1089.65L545.9 1089.65L540.3 1099.15Z"/>
<path d="M540.3 1094.25L551.5 1094.25L545.9 1103.75Z"/>
<path d="M547.5 1090.05L558.7 1090.05L553.1 1099.55Z"/>
<path d="M553.9 1094.25L565.1 1094.25L559.5 1103.75Z"/>
<path d="M560.3 1091.75L571.5 1091.75L565.9 1101.25Z"/>
<path d="M547.4 1094.25L558.6 1094.25L553 1103.75Z"/>
<path d="M604.2 1092.3L609.8 1097.9L604.2 1103.5L598.6 1097.9Z"/>
<path d="M610.9 1085.8L616.5 1091.4L610.9 1097L605.3 1091.4Z"/>
<path d="M617.3 1090.3L622.9 1095.9L617.3 1101.5L611.7 1095.9Z"/>
<path d="M623.7 1089.4L629.3 1095L623.7 1100.6L618.1 1095Z"/>
<path d="M630.1 1082.2L635.7 1087.8L630.1 1093.4L624.5 1087.8Z"/>
<path d="M630.1 1093.9L635.7 1099.5L630.1 1105.1L624.5 1099.5Z"/>
<path d="M636.5 1090.3L642.1 1095.9L636.5 1101.5L630.9 1095.9Z"/>
<path d="M642.5 1093.1L648.1 1098.7L642.5 1104.3L636.9 1098.7Z"/>
<path d="M649.3 1091.5L654.9 1097.1L649.3 1102.7L643.7 1097.1Z"/>
<line x1="433.4" y1="914.3" x2="487.5" y2="914.3" stroke="#000" stroke-width="2.4"/>
<text transform="translate(274.84,1075.7) scale(1.4198,1)" font-size="13.44" font-weight="bold" stroke="#000" stroke-width="0.77" stroke-linejoin="round">*</text>
<text transform="translate(283.73,1075.7) scale(1.4198,1)" font-size="13.44" font-weight="bold" stroke="#000" stroke-width="0.77" stroke-linejoin="round">*</text>
<text transform="translate(292.61,1075.7) scale(1.4198,1)" font-size="13.44" font-weight="bold" stroke="#000" stroke-width="0.77" stroke-linejoin="round">*</text>
<text transform="translate(301.49,1075.7) scale(1.4198,1)" font-size="13.44" font-weight="bold" stroke="#000" stroke-width="0.77" stroke-linejoin="round">*</text>
<text transform="translate(359.94,1074.6) scale(1.4241,1)" font-size="13.44" font-weight="bold" stroke="#000" stroke-width="0.77" stroke-linejoin="round">*</text>
<text transform="translate(368.85,1074.6) scale(1.4241,1)" font-size="13.44" font-weight="bold" stroke="#000" stroke-width="0.77" stroke-linejoin="round">*</text>
<text transform="translate(377.76,1074.6) scale(1.4241,1)" font-size="13.44" font-weight="bold" stroke="#000" stroke-width="0.77" stroke-linejoin="round">*</text>
<text transform="translate(386.67,1074.6) scale(1.4241,1)" font-size="13.44" font-weight="bold" stroke="#000" stroke-width="0.77" stroke-linejoin="round">*</text>
<text transform="translate(526.24,1073.6) scale(1.3985,1)" font-size="13.44" font-weight="bold" stroke="#000" stroke-width="0.79" stroke-linejoin="round">*</text>
<text transform="translate(535,1073.6) scale(1.3985,1)" font-size="13.44" font-weight="bold" stroke="#000" stroke-width="0.79" stroke-linejoin="round">*</text>
<text transform="translate(543.75,1073.6) scale(1.3985,1)" font-size="13.44" font-weight="bold" stroke="#000" stroke-width="0.79" stroke-linejoin="round">*</text>
<text transform="translate(552.5,1073.6) scale(1.3985,1)" font-size="13.44" font-weight="bold" stroke="#000" stroke-width="0.79" stroke-linejoin="round">*</text>
<text transform="translate(611.74,1075.7) scale(1.4156,1)" font-size="13.44" font-weight="bold" stroke="#000" stroke-width="0.78" stroke-linejoin="round">*</text>
<text transform="translate(620.6,1075.7) scale(1.4156,1)" font-size="13.44" font-weight="bold" stroke="#000" stroke-width="0.78" stroke-linejoin="round">*</text>
<text transform="translate(629.46,1075.7) scale(1.4156,1)" font-size="13.44" font-weight="bold" stroke="#000" stroke-width="0.78" stroke-linejoin="round">*</text>
<text transform="translate(638.32,1075.7) scale(1.4156,1)" font-size="13.44" font-weight="bold" stroke="#000" stroke-width="0.78" stroke-linejoin="round">*</text>
<text transform="translate(304.29,1140.2) scale(1,0.9790) rotate(-45)" font-size="31.14" text-anchor="end"><tspan >WT+saline</tspan></text>
<text transform="translate(387.69,1140.2) scale(1,0.9790) rotate(-45)" font-size="31.14" text-anchor="end"><tspan font-style="italic">ApoE</tspan><tspan font-size="22.42" font-style="italic" dy="-16.66" dx="-1.25">-/-</tspan><tspan dy="16.66">+saline</tspan></text>
<text transform="translate(471.29,1140.2) scale(1,0.9790) rotate(-45)" font-size="31.14" text-anchor="end"><tspan font-style="italic">ApoE</tspan><tspan font-size="22.42" font-style="italic" dy="-16.66" dx="-1.25">-/-</tspan><tspan dy="16.66">+AngII</tspan></text>
<text transform="translate(554.89,1140.2) scale(1,0.9790) rotate(-45)" font-size="31.14" text-anchor="end"><tspan font-style="italic">hSOST</tspan><tspan font-size="22.42" font-style="italic" dy="-16.66" dx="-1.25">ki</tspan><tspan dy="16.66">.</tspan><tspan font-style="italic">ApoE</tspan><tspan font-size="22.42" font-style="italic" dy="-16.66" dx="-1.25">-/-</tspan><tspan dy="16.66">+AngII</tspan></text>
<text transform="translate(638.29,1140.2) scale(1,0.9790) rotate(-45)" font-size="31.14" text-anchor="end"><tspan font-style="italic">Δloop3-hSOST</tspan><tspan font-size="22.42" font-style="italic" dy="-16.66" dx="-1.25">ki</tspan><tspan dy="16.66">.</tspan><tspan font-style="italic">ApoE</tspan><tspan font-size="22.42" font-style="italic" dy="-16.66" dx="-1.25">-/-</tspan><tspan dy="16.66">+AngII</tspan></text>
<line x1="844.4" y1="820.4" x2="844.4" y2="1100.55" stroke="#000" stroke-width="2.3"/>
<line x1="835.5" y1="1099.4" x2="1262.4" y2="1099.4" stroke="#000" stroke-width="2.3"/>
<line x1="835.5" y1="1099.4" x2="844.4" y2="1099.4" stroke="#000" stroke-width="2.3"/>
<line x1="835.5" y1="1029.85" x2="844.4" y2="1029.85" stroke="#000" stroke-width="2.3"/>
<line x1="835.5" y1="960.3" x2="844.4" y2="960.3" stroke="#000" stroke-width="2.3"/>
<line x1="835.5" y1="890.75" x2="844.4" y2="890.75" stroke="#000" stroke-width="2.3"/>
<line x1="835.5" y1="821.2" x2="844.4" y2="821.2" stroke="#000" stroke-width="2.3"/>
<line x1="885.7" y1="1099.4" x2="885.7" y2="1107.4" stroke="#000" stroke-width="2.3"/>
<line x1="969.1" y1="1099.4" x2="969.1" y2="1107.4" stroke="#000" stroke-width="2.3"/>
<line x1="1052.7" y1="1099.4" x2="1052.7" y2="1107.4" stroke="#000" stroke-width="2.3"/>
<line x1="1136.1" y1="1099.4" x2="1136.1" y2="1107.4" stroke="#000" stroke-width="2.3"/>
<line x1="1219.6" y1="1099.4" x2="1219.6" y2="1107.4" stroke="#000" stroke-width="2.3"/>
<text transform="translate(803.17,1106.35) scale(1,0.9619)" font-size="21" font-weight="bold">0.0</text>
<text transform="translate(802.9,1036.8) scale(1,0.9619)" font-size="21" font-weight="bold">0.5</text>
<text transform="translate(803.17,967.25) scale(1,0.9619)" font-size="21" font-weight="bold">1.0</text>
<text transform="translate(802.9,897.6) scale(1,0.9619)" font-size="21" font-weight="bold">1.5</text>
<text transform="translate(803.17,828.15) scale(1,0.9619)" font-size="21" font-weight="bold">2.0</text>
<text transform="translate(791.84,1131.88) rotate(-90) scale(1.2646,1)" font-size="21.03"><tspan font-weight="bold">Relative mRNA expression</tspan></text>
<text transform="translate(1018.7,784.83) scale(0.9421,1)" font-size="27.95"><tspan font-weight="bold">TNFα</tspan></text>
<ellipse cx="872.3" cy="1051.7" rx="5.2" ry="5.2"/>
<ellipse cx="908.1" cy="1055.3" rx="5.2" ry="5.2"/>
<ellipse cx="872.3" cy="1064.5" rx="5.2" ry="5.2"/>
<ellipse cx="898.9" cy="1063.7" rx="5.2" ry="5.2"/>
<ellipse cx="890.1" cy="1067.7" rx="5.2" ry="5.2"/>
<ellipse cx="863.5" cy="1074.9" rx="5.2" ry="5.2"/>
<ellipse cx="881.3" cy="1073.3" rx="5.2" ry="5.2"/>
<ellipse cx="908.1" cy="1071.3" rx="5.2" ry="5.2"/>
<ellipse cx="898.9" cy="1075.3" rx="5.2" ry="5.2"/>
<rect x="963.5" y="1046.9" width="10.4" height="10.4"/>
<rect x="950.7" y="1062.5" width="10.4" height="10.4"/>
<rect x="941" y="1066.1" width="10.4" height="10.4"/>
<rect x="968.3" y="1064.5" width="10.4" height="10.4"/>
<rect x="986.8" y="1062.9" width="10.4" height="10.4"/>
<rect x="977.1" y="1070.9" width="10.4" height="10.4"/>
<rect x="950.7" y="1078.6" width="10.4" height="10.4"/>
<rect x="968.3" y="1078.6" width="10.4" height="10.4"/>
<rect x="959.5" y="1068.1" width="10.4" height="10.4"/>
<path d="M1052.5 895.3L1058 905.3L1047 905.3Z"/>
<path d="M1052.5 908.3L1058 918.3L1047 918.3Z"/>
<path d="M1052.5 931.9L1058 941.9L1047 941.9Z"/>
<path d="M1052.5 954.4L1058 964.4L1047 964.4Z"/>
<path d="M1030.3 967.1L1035.8 977.1L1024.8 977.1Z"/>
<path d="M1074.7 969.8L1080.2 979.8L1069.2 979.8Z"/>
<path d="M1052.5 973.9L1058 983.9L1047 983.9Z"/>
<path d="M1041.7 1005.5L1047.2 1015.5L1036.2 1015.5Z"/>
<path d="M1063.9 1003.6L1069.4 1013.6L1058.4 1013.6Z"/>
<path d="M1119.6 1045.6L1130.6 1045.6L1125.1 1055.6Z"/>
<path d="M1106.6 1053.8L1117.6 1053.8L1112.1 1063.8Z"/>
<path d="M1152.6 1049.7L1163.6 1049.7L1158.1 1059.7Z"/>
<path d="M1142.3 1055.1L1153.3 1055.1L1147.8 1065.1Z"/>
<path d="M1131 1060.5L1142 1060.5L1136.5 1070.5Z"/>
<path d="M1152.6 1060.5L1163.6 1060.5L1158.1 1070.5Z"/>
<path d="M1119.6 1066L1130.6 1066L1125.1 1076Z"/>
<path d="M1142.3 1071.4L1153.3 1071.4L1147.8 1081.4Z"/>
<path d="M1119.6 1076.8L1130.6 1076.8L1125.1 1086.8Z"/>
<path d="M1219.6 1049.95L1224.85 1055.2L1219.6 1060.45L1214.35 1055.2Z"/>
<path d="M1196 1062.95L1201.25 1068.2L1196 1073.45L1190.75 1068.2Z"/>
<path d="M1205.5 1062.15L1210.75 1067.4L1205.5 1072.65L1200.25 1067.4Z"/>
<path d="M1219.6 1064.35L1224.85 1069.6L1219.6 1074.85L1214.35 1069.6Z"/>
<path d="M1232.6 1065.75L1237.85 1071L1232.6 1076.25L1227.35 1071Z"/>
<path d="M1242 1064.35L1247.25 1069.6L1242 1074.85L1236.75 1069.6Z"/>
<path d="M1227.2 1071.15L1232.45 1076.4L1227.2 1081.65L1221.95 1076.4Z"/>
<path d="M1212.3 1076.55L1217.55 1081.8L1212.3 1087.05L1207.05 1081.8Z"/>
<path d="M1212.3 1063.75L1217.55 1069L1212.3 1074.25L1207.05 1069Z"/>
<line x1="858" y1="1068" x2="913" y2="1068" stroke="#000" stroke-width="2.4"/>
<line x1="942" y1="1073" x2="996" y2="1073" stroke="#000" stroke-width="2.4"/>
<line x1="1024" y1="970.7" x2="1080.1" y2="970.7" stroke="#000" stroke-width="2.4"/>
<line x1="1108.8" y1="1065.5" x2="1163.5" y2="1065.5" stroke="#000" stroke-width="2.4"/>
<line x1="1192" y1="1069.6" x2="1244.8" y2="1069.6" stroke="#000" stroke-width="2.4"/>
<text transform="translate(867.64,1036.94) scale(1.5059,1)" font-size="12.63" font-weight="bold" stroke="#000" stroke-width="0.73" stroke-linejoin="round">*</text>
<text transform="translate(876.5,1036.94) scale(1.5059,1)" font-size="12.63" font-weight="bold" stroke="#000" stroke-width="0.73" stroke-linejoin="round">*</text>
<text transform="translate(885.36,1036.94) scale(1.5059,1)" font-size="12.63" font-weight="bold" stroke="#000" stroke-width="0.73" stroke-linejoin="round">*</text>
<text transform="translate(894.22,1036.94) scale(1.5059,1)" font-size="12.63" font-weight="bold" stroke="#000" stroke-width="0.73" stroke-linejoin="round">*</text>
<text transform="translate(952.64,1041.34) scale(1.4878,1)" font-size="12.63" font-weight="bold" stroke="#000" stroke-width="0.74" stroke-linejoin="round">*</text>
<text transform="translate(961.4,1041.34) scale(1.4878,1)" font-size="12.63" font-weight="bold" stroke="#000" stroke-width="0.74" stroke-linejoin="round">*</text>
<text transform="translate(970.15,1041.34) scale(1.4878,1)" font-size="12.63" font-weight="bold" stroke="#000" stroke-width="0.74" stroke-linejoin="round">*</text>
<text transform="translate(978.9,1041.34) scale(1.4878,1)" font-size="12.63" font-weight="bold" stroke="#000" stroke-width="0.74" stroke-linejoin="round">*</text>
<text transform="translate(1119.75,1038.85) scale(1.3113,1)" font-size="14.24" font-weight="bold" stroke="#000" stroke-width="0.84" stroke-linejoin="round">*</text>
<text transform="translate(1128.45,1038.85) scale(1.3113,1)" font-size="14.24" font-weight="bold" stroke="#000" stroke-width="0.84" stroke-linejoin="round">*</text>
<text transform="translate(1137.15,1038.85) scale(1.3113,1)" font-size="14.24" font-weight="bold" stroke="#000" stroke-width="0.84" stroke-linejoin="round">*</text>
<text transform="translate(1145.85,1038.85) scale(1.3113,1)" font-size="14.24" font-weight="bold" stroke="#000" stroke-width="0.84" stroke-linejoin="round">*</text>
<text transform="translate(1202.05,1044.07) scale(1.3283,1)" font-size="13.98" font-weight="bold" stroke="#000" stroke-width="0.83" stroke-linejoin="round">*</text>
<text transform="translate(1210.69,1044.07) scale(1.3283,1)" font-size="13.98" font-weight="bold" stroke="#000" stroke-width="0.83" stroke-linejoin="round">*</text>
<text transform="translate(1219.34,1044.07) scale(1.3283,1)" font-size="13.98" font-weight="bold" stroke="#000" stroke-width="0.83" stroke-linejoin="round">*</text>
<text transform="translate(1227.99,1044.07) scale(1.3283,1)" font-size="13.98" font-weight="bold" stroke="#000" stroke-width="0.83" stroke-linejoin="round">*</text>
<text transform="translate(896.78,1133.4) scale(1,0.9920) rotate(-45)" font-size="31.12" text-anchor="end"><tspan >WT+saline</tspan></text>
<text transform="translate(980.18,1133.4) scale(1,0.9920) rotate(-45)" font-size="31.12" text-anchor="end"><tspan font-style="italic">ApoE</tspan><tspan font-size="22.41" font-style="italic" dy="-16.65" dx="-1.24">-/-</tspan><tspan dy="16.65">+saline</tspan></text>
<text transform="translate(1063.78,1133.4) scale(1,0.9920) rotate(-45)" font-size="31.12" text-anchor="end"><tspan font-style="italic">ApoE</tspan><tspan font-size="22.41" font-style="italic" dy="-16.65" dx="-1.24">-/-</tspan><tspan dy="16.65">+AngII</tspan></text>
<text transform="translate(1147.18,1133.4) scale(1,0.9920) rotate(-45)" font-size="31.12" text-anchor="end"><tspan font-style="italic">hSOST</tspan><tspan font-size="22.41" font-style="italic" dy="-16.65" dx="-1.24">ki</tspan><tspan dy="16.65">.</tspan><tspan font-style="italic">ApoE</tspan><tspan font-size="22.41" font-style="italic" dy="-16.65" dx="-1.24">-/-</tspan><tspan dy="16.65">+AngII</tspan></text>
<text transform="translate(1230.68,1133.4) scale(1,0.9920) rotate(-45)" font-size="31.12" text-anchor="end"><tspan font-style="italic">Δloop3-hSOST</tspan><tspan font-size="22.41" font-style="italic" dy="-16.65" dx="-1.24">ki</tspan><tspan dy="16.65">.</tspan><tspan font-style="italic">ApoE</tspan><tspan font-size="22.41" font-style="italic" dy="-16.65" dx="-1.24">-/-</tspan><tspan dy="16.65">+AngII</tspan></text>
<line x1="1449.9" y1="816.4" x2="1449.9" y2="1096.45" stroke="#000" stroke-width="2.3"/>
<line x1="1441" y1="1095.3" x2="1868.3" y2="1095.3" stroke="#000" stroke-width="2.3"/>
<line x1="1441" y1="1095.3" x2="1449.9" y2="1095.3" stroke="#000" stroke-width="2.3"/>
<line x1="1441" y1="1002.73" x2="1449.9" y2="1002.73" stroke="#000" stroke-width="2.3"/>
<line x1="1441" y1="910.17" x2="1449.9" y2="910.17" stroke="#000" stroke-width="2.3"/>
<line x1="1441" y1="817.6" x2="1449.9" y2="817.6" stroke="#000" stroke-width="2.3"/>
<line x1="1491.3" y1="1095.3" x2="1491.3" y2="1103.3" stroke="#000" stroke-width="2.3"/>
<line x1="1575" y1="1095.3" x2="1575" y2="1103.3" stroke="#000" stroke-width="2.3"/>
<line x1="1659" y1="1095.3" x2="1659" y2="1103.3" stroke="#000" stroke-width="2.3"/>
<line x1="1742.9" y1="1095.3" x2="1742.9" y2="1103.3" stroke="#000" stroke-width="2.3"/>
<line x1="1826.4" y1="1095.3" x2="1826.4" y2="1103.3" stroke="#000" stroke-width="2.3"/>
<text transform="translate(1409.55,1102.35) scale(1,0.9754)" font-size="21.01" font-weight="bold">0.0</text>
<text transform="translate(1409.28,1009.79) scale(1,0.9754)" font-size="21.01" font-weight="bold">0.5</text>
<text transform="translate(1409.55,917.22) scale(1,0.9754)" font-size="21.01" font-weight="bold">1.0</text>
<text transform="translate(1409.28,824.55) scale(1,0.9754)" font-size="21.01" font-weight="bold">1.5</text>
<text transform="translate(1398.85,1127.88) rotate(-90) scale(1.1863,1)" font-size="22.42"><tspan font-weight="bold">Relative mRNA expression</tspan></text>
<text transform="translate(1616.64,781.13) scale(0.9533,1)" font-size="27.54"><tspan font-weight="bold">MCP-1</tspan></text>
<ellipse cx="1493.2" cy="1045.2" rx="5.2" ry="5.2"/>
<ellipse cx="1503.2" cy="1042.5" rx="5.2" ry="5.2"/>
<ellipse cx="1470.2" cy="1057.4" rx="5.2" ry="5.2"/>
<ellipse cx="1481" cy="1058.2" rx="5.2" ry="5.2"/>
<ellipse cx="1493.2" cy="1064.7" rx="5.2" ry="5.2"/>
<ellipse cx="1503.2" cy="1060.9" rx="5.2" ry="5.2"/>
<ellipse cx="1514.9" cy="1057.4" rx="5.2" ry="5.2"/>
<ellipse cx="1470.2" cy="1069" rx="5.2" ry="5.2"/>
<ellipse cx="1514.9" cy="1072.3" rx="5.2" ry="5.2"/>
<rect x="1570.6" y="1031.3" width="10.4" height="10.4"/>
<rect x="1547.6" y="1052.2" width="10.4" height="10.4"/>
<rect x="1557.1" y="1046" width="10.4" height="10.4"/>
<rect x="1574.7" y="1050.8" width="10.4" height="10.4"/>
<rect x="1584.2" y="1052.2" width="10.4" height="10.4"/>
<rect x="1593.6" y="1052.2" width="10.4" height="10.4"/>
<rect x="1565.8" y="1059.5" width="10.4" height="10.4"/>
<rect x="1575.5" y="1061.7" width="10.4" height="10.4"/>
<rect x="1565.8" y="1066.5" width="10.4" height="10.4"/>
<path d="M1659 838.4L1664.5 848.4L1653.5 848.4Z"/>
<path d="M1670.1 874.5L1675.6 884.5L1664.6 884.5Z"/>
<path d="M1647.6 884.5L1653.1 894.5L1642.1 894.5Z"/>
<path d="M1636.8 900.7L1642.3 910.7L1631.3 910.7Z"/>
<path d="M1659 907.5L1664.5 917.5L1653.5 917.5Z"/>
<path d="M1681.5 910.7L1687 920.7L1676 920.7Z"/>
<path d="M1659 921L1664.5 931L1653.5 931Z"/>
<path d="M1647.6 963L1653.1 973L1642.1 973Z"/>
<path d="M1670.1 960.3L1675.6 970.3L1664.6 970.3Z"/>
<path d="M1726.9 1037L1737.9 1037L1732.4 1047Z"/>
<path d="M1737.4 1035.6L1748.4 1035.6L1742.9 1045.6Z"/>
<path d="M1747.7 1034.8L1758.7 1034.8L1753.2 1044.8Z"/>
<path d="M1716.6 1047.8L1727.6 1047.8L1722.1 1057.8Z"/>
<path d="M1759.4 1048.3L1770.4 1048.3L1764.9 1058.3Z"/>
<path d="M1726.9 1051L1737.9 1051L1732.4 1061Z"/>
<path d="M1737.4 1053.8L1748.4 1053.8L1742.9 1063.8Z"/>
<path d="M1726.9 1063.2L1737.9 1063.2L1732.4 1073.2Z"/>
<path d="M1747.7 1059.2L1758.7 1059.2L1753.2 1069.2Z"/>
<path d="M1820.4 1035.85L1825.65 1041.1L1820.4 1046.35L1815.15 1041.1Z"/>
<path d="M1830.4 1043.25L1835.65 1048.5L1830.4 1053.75L1825.15 1048.5Z"/>
<path d="M1803.3 1052.15L1808.55 1057.4L1803.3 1062.65L1798.05 1057.4Z"/>
<path d="M1812 1052.15L1817.25 1057.4L1812 1062.65L1806.75 1057.4Z"/>
<path d="M1821 1053.55L1826.25 1058.8L1821 1064.05L1815.75 1058.8Z"/>
<path d="M1830.4 1056.75L1835.65 1062L1830.4 1067.25L1825.15 1062Z"/>
<path d="M1839.9 1053.55L1845.15 1058.8L1839.9 1064.05L1834.65 1058.8Z"/>
<path d="M1848.8 1052.15L1854.05 1057.4L1848.8 1062.65L1843.55 1057.4Z"/>
<path d="M1812.3 1064.35L1817.55 1069.6L1812.3 1074.85L1807.05 1069.6Z"/>
<line x1="1466" y1="1057.4" x2="1518" y2="1057.4" stroke="#000" stroke-width="2.4"/>
<line x1="1548" y1="1057" x2="1603" y2="1057" stroke="#000" stroke-width="2.4"/>
<line x1="1631.4" y1="911.1" x2="1686.9" y2="911.1" stroke="#000" stroke-width="2.4"/>
<line x1="1718" y1="1054.7" x2="1770" y2="1054.7" stroke="#000" stroke-width="2.4"/>
<line x1="1800" y1="1058.2" x2="1852" y2="1058.2" stroke="#000" stroke-width="2.4"/>
<text transform="translate(1475.64,1031.62) scale(1.2791,1)" font-size="14.78" font-weight="bold" stroke="#000" stroke-width="0.86" stroke-linejoin="round">*</text>
<text transform="translate(1484.45,1031.62) scale(1.2791,1)" font-size="14.78" font-weight="bold" stroke="#000" stroke-width="0.86" stroke-linejoin="round">*</text>
<text transform="translate(1493.25,1031.62) scale(1.2791,1)" font-size="14.78" font-weight="bold" stroke="#000" stroke-width="0.86" stroke-linejoin="round">*</text>
<text transform="translate(1502.06,1031.62) scale(1.2791,1)" font-size="14.78" font-weight="bold" stroke="#000" stroke-width="0.86" stroke-linejoin="round">*</text>
<text transform="translate(1559.05,1026.22) scale(1.2481,1)" font-size="14.78" font-weight="bold" stroke="#000" stroke-width="0.88" stroke-linejoin="round">*</text>
<text transform="translate(1567.64,1026.22) scale(1.2481,1)" font-size="14.78" font-weight="bold" stroke="#000" stroke-width="0.88" stroke-linejoin="round">*</text>
<text transform="translate(1576.24,1026.22) scale(1.2481,1)" font-size="14.78" font-weight="bold" stroke="#000" stroke-width="0.88" stroke-linejoin="round">*</text>
<text transform="translate(1584.84,1026.22) scale(1.2481,1)" font-size="14.78" font-weight="bold" stroke="#000" stroke-width="0.88" stroke-linejoin="round">*</text>
<text transform="translate(1724.85,1030.94) scale(1.2791,1)" font-size="14.51" font-weight="bold" stroke="#000" stroke-width="0.86" stroke-linejoin="round">*</text>
<text transform="translate(1733.49,1030.94) scale(1.2791,1)" font-size="14.51" font-weight="bold" stroke="#000" stroke-width="0.86" stroke-linejoin="round">*</text>
<text transform="translate(1742.14,1030.94) scale(1.2791,1)" font-size="14.51" font-weight="bold" stroke="#000" stroke-width="0.86" stroke-linejoin="round">*</text>
<text transform="translate(1750.79,1030.94) scale(1.2791,1)" font-size="14.51" font-weight="bold" stroke="#000" stroke-width="0.86" stroke-linejoin="round">*</text>
<text transform="translate(1809.34,1030.94) scale(1.2989,1)" font-size="14.51" font-weight="bold" stroke="#000" stroke-width="0.85" stroke-linejoin="round">*</text>
<text transform="translate(1818.12,1030.94) scale(1.2989,1)" font-size="14.51" font-weight="bold" stroke="#000" stroke-width="0.85" stroke-linejoin="round">*</text>
<text transform="translate(1826.9,1030.94) scale(1.2989,1)" font-size="14.51" font-weight="bold" stroke="#000" stroke-width="0.85" stroke-linejoin="round">*</text>
<text transform="translate(1835.68,1030.94) scale(1.2989,1)" font-size="14.51" font-weight="bold" stroke="#000" stroke-width="0.85" stroke-linejoin="round">*</text>
<text transform="translate(1503.11,1129.67) scale(1,0.9810) rotate(-45)" font-size="31.36" text-anchor="end"><tspan >WT+saline</tspan></text>
<text transform="translate(1586.81,1129.67) scale(1,0.9810) rotate(-45)" font-size="31.36" text-anchor="end"><tspan font-style="italic">ApoE</tspan><tspan font-size="22.58" font-style="italic" dy="-16.78" dx="-1.25">-/-</tspan><tspan dy="16.78">+saline</tspan></text>
<text transform="translate(1670.81,1129.67) scale(1,0.9810) rotate(-45)" font-size="31.36" text-anchor="end"><tspan font-style="italic">ApoE</tspan><tspan font-size="22.58" font-style="italic" dy="-16.78" dx="-1.25">-/-</tspan><tspan dy="16.78">+AngII</tspan></text>
<text transform="translate(1754.71,1129.67) scale(1,0.9810) rotate(-45)" font-size="31.36" text-anchor="end"><tspan font-style="italic">hSOST</tspan><tspan font-size="22.58" font-style="italic" dy="-16.78" dx="-1.25">ki</tspan><tspan dy="16.78">.</tspan><tspan font-style="italic">ApoE</tspan><tspan font-size="22.58" font-style="italic" dy="-16.78" dx="-1.25">-/-</tspan><tspan dy="16.78">+AngII</tspan></text>
<text transform="translate(1838.21,1129.67) scale(1,0.9810) rotate(-45)" font-size="31.36" text-anchor="end"><tspan font-style="italic">Δloop3-hSOST</tspan><tspan font-size="22.58" font-style="italic" dy="-16.78" dx="-1.25">ki</tspan><tspan dy="16.78">.</tspan><tspan font-style="italic">ApoE</tspan><tspan font-size="22.58" font-style="italic" dy="-16.78" dx="-1.25">-/-</tspan><tspan dy="16.78">+AngII</tspan></text>
</g></svg>
</body></html>
